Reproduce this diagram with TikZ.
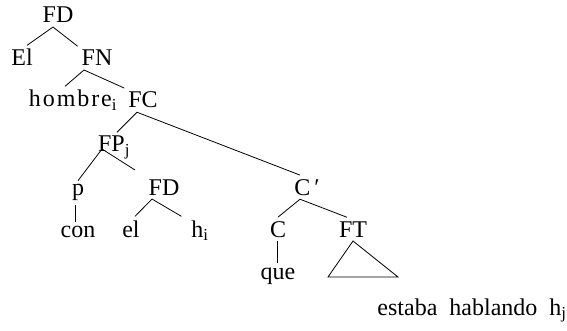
\documentclass[tikz,border=0pt]{standalone}
\usepackage{fontspec}
\setmainfont{Liberation Serif}
\newfontfamily\spaced[LetterSpace=8]{Liberation Serif}
\usepackage{tikz}
\usetikzlibrary{calc}
\tikzset{
  cat/.style={anchor=base, inner sep=4pt, outer sep=0pt,
    font=\fontsize{24}{28}\selectfont},
  branch/.style={line width=0.8pt, color=black}
}

\begin{document}
\begin{tikzpicture}[x=1pt, y=-1pt]
  \useasboundingbox (0,0) rectangle (567,331);

  % Upper part of the tree
  \node[cat] (fdA) at (58,23) {FD};
  \node[cat] (elA) at (22,66) {El};
  \node[cat] (fn) at (97,66) {FN};
  \node[cat] (hombre) at (73,107) {{\spaced hombre}\textsubscript{i}};
  \node[cat] (fc) at (143,108) {FC};

  % Prepositional phrase
  \node[cat] (fp) at (114,152) {FP\textsubscript{j}};
  \node[cat] (p) at (78,196) {p};
  \node[cat] (con) at (78,237) {con};
  \node[cat] (fdB) at (164,195) {FD};
  \node[cat] (elB) at (131,237) {el};
  \node[cat] (hi) at (200,237) {h\textsubscript{i}};
  \coordinate (fpend) at (135,170);

  % C' and its daughters
  \node[cat] (cbar) at (307,195) {C\,′};
  \node[cat] (c) at (278,237) {C};
  \node[cat] (que) at (278,279) {que};
  \node[cat] (ft) at (353,237) {FT};
  \node[cat] (estaba) at (472,315) {estaba\ \ hablando\ \ h\textsubscript{j}};

  % Branches
  \draw[branch] ([xshift=-5pt]fdA.south) -- ([xshift=5pt]elA.north);
  \draw[branch] ([xshift=-5pt]fdA.south) -- (fn.north west);
  \draw[branch] ([xshift=-13pt]fn.south) -- ([xshift=-8pt]hombre.north);
  \draw[branch] ([xshift=-13pt]fn.south) -- (fc.north west);
  \draw[branch] ([xshift=-6pt]fc.south) -- ([xshift=3pt]fp.north);
  \draw[branch] ([xshift=-6pt]fc.south) -- ([xshift=-7pt]cbar.north);
  \draw[branch] ([shift={(-12pt,3pt)}]fp.base) -- (p.north);
  \draw[branch] ([shift={(-12pt,3pt)}]fp.base) -- (fpend);
  \draw[branch] ([xshift=-3pt]p.south) -- ([xshift=-3pt]con.north);
  \draw[branch] ([xshift=-12pt]fdB.south) -- ([xshift=4pt]elB.north);
  \draw[branch] ([xshift=-12pt]fdB.south) -- ([xshift=-6pt]hi.north west);
  \draw[branch] ([xshift=-7pt]cbar.south) -- (c.north);
  \draw[branch] ([xshift=-7pt]cbar.south) -- ([xshift=-6pt]ft.north);
  \draw[branch] ([xshift=-1pt]c.south) -- ([xshift=-1pt]que.north);

  % Triangle under FT
  \coordinate (triL) at ($(ft.south)+(-25,36)$);
  \coordinate (triR) at ($(ft.south)+(45,36)$);
  \draw[branch] (ft.south) -- (triL) -- (triR) -- cycle;
\end{tikzpicture}
\end{document}
